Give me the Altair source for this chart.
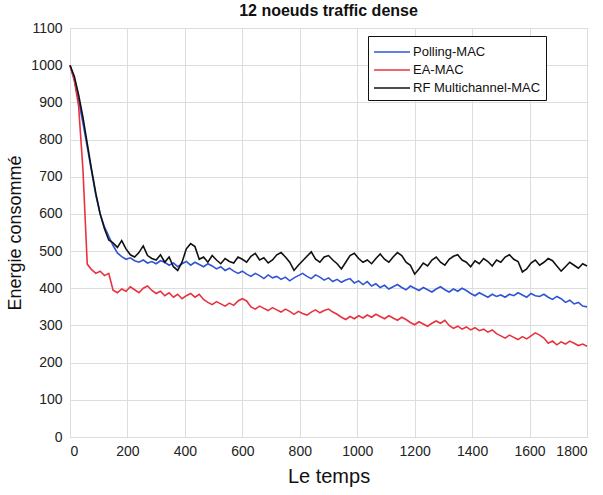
import altair as alt
import pandas as pd

# time grid (step 15) and series values
times = list(range(0, 1801, 15))

polling = [
    1000, 960, 905, 845, 780, 715, 650, 600, 565, 540,
    515, 495, 485, 478, 482, 474, 470, 476, 468, 472,
    466, 474, 470, 462, 468, 458, 466, 472, 462, 470,
    464, 458, 466, 460, 452, 458, 448, 454, 446, 440,
    446, 438, 432, 440, 434, 426, 436, 428, 432, 424,
    430, 420, 428, 434, 440, 432, 426, 436, 430, 422,
    428, 418, 424, 416, 422, 426, 414, 420, 410, 418,
    406, 412, 402, 408, 398, 404, 410, 402, 396, 406,
    400, 394, 402, 396, 390, 398, 404, 396, 390, 398,
    392, 400, 394, 386, 380, 388, 382, 376, 384, 378,
    382, 376, 384, 380, 388, 382, 376, 386, 380, 378,
    384, 376, 370, 378, 372, 362, 368, 358, 362, 352,
    350,
]

ea = [
    1000, 960, 890, 720, 465, 450, 440, 446, 434, 440,
    395, 388, 398, 392, 404, 396, 388, 400, 406, 394,
    386, 392, 380, 388, 376, 384, 372, 380, 386, 376,
    384, 370, 362, 356, 364, 358, 352, 360, 354, 366,
    372, 366, 350, 344, 352, 346, 340, 348, 342, 336,
    344, 338, 330, 338, 332, 328, 336, 342, 334, 340,
    344, 336, 330, 322, 316, 324, 318, 326, 320, 328,
    322, 330, 324, 318, 326, 320, 314, 322, 316, 308,
    302, 310, 304, 298, 306, 312, 306, 314, 300, 292,
    298, 290, 296, 288, 294, 286, 290, 282, 288, 278,
    272, 266, 274, 268, 262, 270, 264, 272, 280, 274,
    266, 252, 258, 248, 256, 250, 258, 252, 246, 250,
    244,
]

rf = [
    1000, 970, 920, 860, 790, 720, 655, 600, 560, 530,
    522, 510, 528, 506, 490, 484, 496, 514, 488, 480,
    476, 490, 470, 484, 458, 448, 470, 506, 520, 512,
    478, 484, 470, 488, 476, 466, 480, 472, 468, 484,
    478, 470, 486, 494, 476, 482, 468, 476, 490, 496,
    484, 470, 448, 462, 474, 486, 498, 478, 470, 484,
    488, 476, 466, 452, 470, 488, 494, 480, 470, 476,
    466, 480, 492, 478, 470, 484, 496, 488, 470, 462,
    438, 452, 468, 460, 476, 484, 470, 462, 478, 486,
    490, 476, 470, 458, 474, 466, 480, 472, 460, 476,
    470, 484, 490, 478, 472, 444, 452, 468, 476, 462,
    470, 480, 474, 460, 446, 458, 470, 462, 454, 466,
    460,
]

series_names = ["Polling-MAC", "EA-MAC", "RF Multichannel-MAC"]
series_colors = ["#2f55d4", "#e8333f", "#111111"]
x_ticks = [0, 200, 400, 600, 800, 1000, 1200, 1400, 1600, 1800]
y_ticks = [0, 100, 200, 300, 400, 500, 600, 700, 800, 900, 1000, 1100]

rows = []
for order, (name, vals) in enumerate(zip(series_names, [polling, ea, rf])):
    for t, v in zip(times, vals):
        rows.append({"t": t, "v": v, "serie": name, "ord": order})
df = pd.DataFrame(rows)

FONT = "Liberation Sans"

chart = alt.Chart(df).mark_line(strokeWidth=1.6).encode(
    x=alt.X("t:Q",
            scale=alt.Scale(domain=[0, 1800], nice=False),
            axis=alt.Axis(values=x_ticks, title="Le temps", grid=True, format="d",
                          labelFontSize=14, titleFontSize=20, titleFontWeight="normal",
                          labelPadding=7, titlePadding=8, ticks=False, domain=False,
                          labelColor="#222", titleColor="#111",
                          labelFont=FONT, titleFont=FONT)),
    y=alt.Y("v:Q",
            scale=alt.Scale(domain=[0, 1100], nice=False),
            axis=alt.Axis(values=y_ticks, title="Energie consommé", grid=True, format="d",
                          labelFontSize=14, titleFontSize=18, titleFontWeight="normal",
                          labelPadding=8, titlePadding=6, ticks=False, domain=False,
                          labelColor="#222", titleColor="#111",
                          labelFont=FONT, titleFont=FONT)),
    color=alt.Color("serie:N",
                    scale=alt.Scale(domain=series_names, range=series_colors),
                    legend=alt.Legend(title=None, orient="none", legendX=298, legendY=8,
                                      symbolType="M-1.8,0L1.8,0", symbolSize=400,
                                      symbolStrokeWidth=1.6, symbolOffset=8,
                                      labelFontSize=13, labelFont=FONT, labelColor="#111",
                                      strokeColor="#111", fillColor="white", padding=5,
                                      rowPadding=0, labelOffset=10)),
    order=alt.Order("ord:Q"),
).properties(
    width=517, height=409,
    title=alt.Title("12 noeuds traffic dense", fontSize=16, fontWeight="bold",
                    font=FONT, color="#111", offset=2),
    autosize=alt.AutoSizeParams(type="none"),
    padding={"left": 70, "top": 28, "right": 16, "bottom": 58},
).configure_view(
    stroke="#111", strokeWidth=1.2
).configure_axis(
    gridColor="#aaaaaa", gridDash=[1, 3], gridOpacity=0.9
).configure(background="white")

chart.save("out.html", embed_options={"renderer": "svg", "actions": False})
